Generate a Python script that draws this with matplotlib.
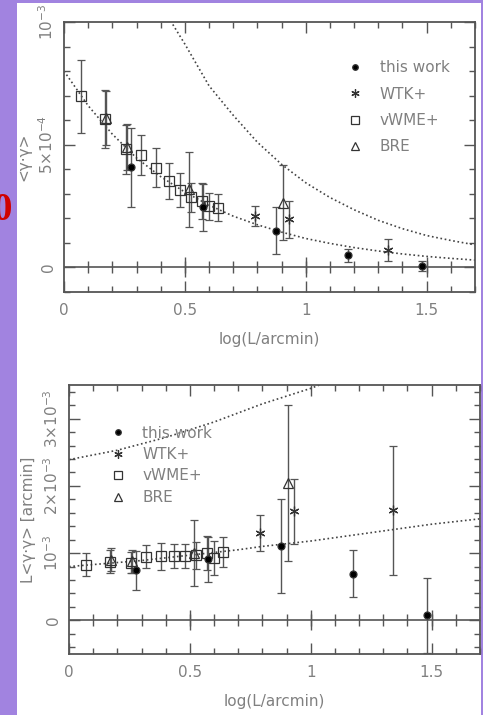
import matplotlib
matplotlib.use('Agg')
import matplotlib.pyplot as plt
import numpy as np
from matplotlib.lines import Line2D

# ---- datos ----
# panel superior: <gg> en unidades de 1e-4 ; panel inferior: L<gg> en unidades de 1e-3
tw_x = [0.277, 0.574, 0.875, 1.175, 1.48]
tw_top = [4.08, 2.45, 1.50, 0.49, 0.05]
tw_top_err = [1.6, 0.95, 0.95, 0.25, 0.2]
tw_bot = [0.746, 0.906, 1.10, 0.697, 0.075]
tw_bot_err = [0.29, 0.34, 0.70, 0.35, 0.56]

vw_x = [0.07, 0.17, 0.255, 0.32, 0.38, 0.435, 0.48, 0.525, 0.57, 0.60, 0.635]
vw_top = [6.97, 6.04, 4.82, 4.57, 4.07, 3.52, 3.16, 2.85, 2.71, 2.50, 2.44]
vw_top_err = [1.5, 1.18, 1.0, 0.82, 0.78, 0.72, 0.68, 0.6, 0.75, 0.55, 0.55]
vw_bot = [0.83, 0.87, 0.86, 0.945, 0.955, 0.955, 0.955, 0.97, 1.0, 0.93, 1.02]
vw_bot_err = [0.17, 0.17, 0.16, 0.17, 0.2, 0.18, 0.18, 0.2, 0.25, 0.25, 0.22]

bre_x = [0.175, 0.26, 0.515, 0.905]
bre_top = [6.1, 4.9, 3.18, 2.64]
bre_top_err = [1.1, 0.95, 1.53, 1.53]
bre_bot = [0.90, 0.88, 1.0, 2.04]
bre_bot_err = [0.17, 0.17, 0.49, 1.16]

wtk_x = [0.79, 0.93, 1.34]
wtk_top = [2.09, 1.96, 0.71]
wtk_top_err = [0.41, 0.75, 0.45]
wtk_bot = [1.30, 1.62, 1.64]
wtk_bot_err = [0.27, 0.48, 0.96]

# curvas de modelo (punteadas)
m1_x = [0, 0.1, 0.2, 0.3, 0.4, 0.5, 0.6, 0.7, 0.8, 0.9, 1.0, 1.1, 1.2, 1.3, 1.4, 1.5, 1.6, 1.7]
m1_top = [8.0, 6.59, 5.43, 4.46, 3.70, 3.07, 2.54, 2.09, 1.74, 1.44, 1.18, 0.98, 0.81, 0.67, 0.55, 0.45, 0.37, 0.30]
m1_bot = [0.80, 0.83, 0.86, 0.89, 0.93, 0.97, 1.01, 1.05, 1.10, 1.14, 1.18, 1.23, 1.28, 1.33, 1.38, 1.43, 1.47, 1.51]
m2_top_x = [0.45, 0.5, 0.6, 0.7, 0.8, 0.9, 1.0, 1.1, 1.2, 1.3, 1.4, 1.5, 1.6, 1.7]
m2_top = [9.9, 9.1, 7.4, 6.2, 5.1, 4.2, 3.45, 2.85, 2.35, 1.92, 1.58, 1.3, 1.1, 0.92]
m2_bot_x = [0, 0.2, 0.4, 0.6, 0.8, 1.0, 1.05]
m2_bot = [2.39, 2.53, 2.72, 2.95, 3.22, 3.45, 3.52]

etiquetas = ['this work', 'WTK+', 'vWME+', 'BRE']

gris = '#555555'
gris_txt = '#808080'
morado = '#a183e0'

fig = plt.figure(figsize=(4.83, 7.15), dpi=100, facecolor=morado)
fondo = fig.add_axes([17/483, 0, (481-17)/483, 1-3/715], zorder=-10)
fondo.set_facecolor('white')
fondo.set_xticks([]); fondo.set_yticks([])
for s in fondo.spines.values():
    s.set_visible(False)

fig.text(12/483, 1-210/715, '0', ha='right', va='center', color='#d00000',
         fontsize=28, fontweight='bold', family='Liberation Serif')

ax1 = fig.add_axes([64/483, 1-292/715, 411/483, 270/715])
ax2 = fig.add_axes([69/483, 1-654/715, 411/483, 269/715])


def dibujar(ax, esc, datos, modelos, yl, yticks, ylabs, yminor, ylabel, leg_pos, leg_space):
    for xs, ys in modelos:
        ax.plot(xs, np.array(ys)*esc, ls=(0, (1, 1.6)), color='#444444', lw=1.2)
    ax.axhline(0, color=gris, lw=1.2)
    xmin = np.arange(0.1, 1.7, 0.1)
    ax.plot(xmin, np.zeros_like(xmin), ls='none', marker='|', ms=8, color=gris, mew=1)
    ax.plot([0.5, 1.0, 1.5], [0, 0, 0], ls='none', marker='|', ms=14, color=gris, mew=1)
    for xs, ys, es, mk, ms, fc in datos:
        ax.errorbar(xs, np.array(ys)*esc, yerr=np.array(es)*esc, marker=mk, ls='none', ms=ms,
                    mfc=fc, mec='#333333', mew=0.9, ecolor=gris, elinewidth=1,
                    capsize=3, capthick=1)
    ax.set_xlim(0, 1.7)
    ax.set_ylim(*yl)
    ax.set_xticks([0, 0.5, 1, 1.5])
    ax.set_xticklabels(['0', '0.5', '1', '1.5'])
    ax.set_xticks(np.arange(0, 1.71, 0.1), minor=True)
    ax.set_yticks(yticks)
    ax.set_yticklabels(ylabs, rotation=90, va='center')
    ax.set_yticks(yminor, minor=True)
    ax.tick_params(which='both', direction='in', top=True, right=True,
                   color=gris, labelcolor=gris_txt, labelsize=11)
    ax.tick_params(which='major', length=8, width=1)
    ax.tick_params(which='minor', length=4, width=1)
    ax.tick_params(axis='x', pad=8)
    ax.tick_params(axis='y', pad=6)
    for s in ax.spines.values():
        s.set_color(gris)
        s.set_linewidth(1.3)
    ax.set_xlabel('log(L/arcmin)', color=gris_txt, fontsize=11, labelpad=10)
    ax.set_ylabel(ylabel, color=gris_txt, fontsize=11, labelpad=4)
    handles = [Line2D([], [], ls='none', marker=d[3], ms=d[4]-1, mfc=d[5], mec='#333333', mew=0.9)
               for d in [datos[3], datos[2], datos[0], datos[1]]]
    ax.legend(handles, etiquetas, loc='upper left', bbox_to_anchor=leg_pos, frameon=False,
              handlelength=0.8, handletextpad=1.2, labelspacing=leg_space,
              fontsize=11, labelcolor=gris_txt)


mk_wtk = (6, 2, 0)
datos_top = [(vw_x, vw_top, vw_top_err, 's', 7, 'none'),
             (bre_x, bre_top, bre_top_err, '^', 7, 'none'),
             (wtk_x, wtk_top, wtk_top_err, mk_wtk, 7, 'none'),
             (tw_x, tw_top, tw_top_err, 'o', 5, 'black')]
datos_bot = [(vw_x, vw_bot, vw_bot_err, 's', 7, 'none'),
             (bre_x, bre_bot, bre_bot_err, '^', 7, 'none'),
             (wtk_x, wtk_bot, wtk_bot_err, mk_wtk, 7, 'none'),
             (tw_x, tw_bot, tw_bot_err, 'o', 5, 'black')]

dibujar(ax1, 1e-4, datos_top, [(m1_x, m1_top), (m2_top_x, m2_top)],
        (-1e-4, 1e-3), [0, 5e-4, 1e-3], ['0', '5×10$^{-4}$', '10$^{-3}$'],
        np.arange(-1e-4, 1.01e-3, 1e-4), '<γ·γ>', (0.66, 0.91), 0.75)
dibujar(ax2, 1e-3, datos_bot, [(m1_x, m1_bot), (m2_bot_x, m2_bot)],
        (-0.5e-3, 3.5e-3), [0, 1e-3, 2e-3, 3e-3], ['0', '10$^{-3}$', '2×10$^{-3}$', '3×10$^{-3}$'],
        np.arange(-0.4e-3, 3.5e-3, 0.2e-3), 'L<γ·γ> [arcmin]', (0.07, 0.90), 0.42)

fig.savefig('out.png', dpi=100, facecolor=morado)
